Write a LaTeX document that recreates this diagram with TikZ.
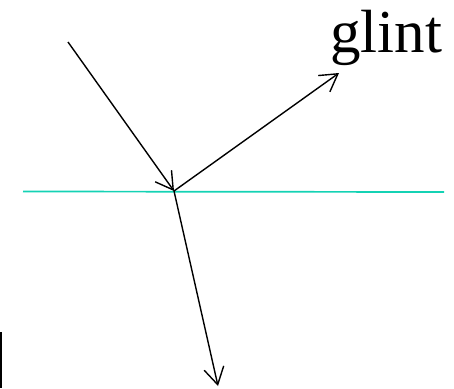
\documentclass[tikz,border=0pt]{standalone}
\usepackage{fontspec}
\setmainfont{Liberation Serif}
\usepackage{xcolor}
\usetikzlibrary{arrows.meta,positioning}
\definecolor{water}{RGB}{20,210,180}

\begin{document}
\begin{tikzpicture}[
      x=1pt, y=-1pt,
      ray/.style={-{Straight Barb[length=17pt, width=20pt]}, line width=1.4pt, black},
      surf/.style={line width=1.7pt, water},
      lbl/.style={font=\fontsize{61}{63}\selectfont, inner sep=0pt},
    ]
    \useasboundingbox (0,0) rectangle (454,388);

    % points of the rays
    \coordinate (src) at (68,42);
    \coordinate (hit) at (174,191);
    \coordinate (refl) at (339,73);
    \coordinate (refr) at (218,386);
    \coordinate (sl) at (23,191.5);
    \coordinate (sr) at (444,192);

    % surface
    \draw[surf] (sl) -- (sr);

    % rays
    \draw[ray] (src) -- (hit);
    \draw[ray] (hit) -- (refl);
    \draw[ray] (hit) -- (refr);

    % label
    \node[lbl, anchor=base] (glint) at (386,52) {glint};

    % edge mark
    \coordinate (ea) at (1,332);
    \coordinate (eb) at (1,388);
    \draw[line width=1.5pt] (ea) -- (eb);
  \end{tikzpicture}
\end{document}
